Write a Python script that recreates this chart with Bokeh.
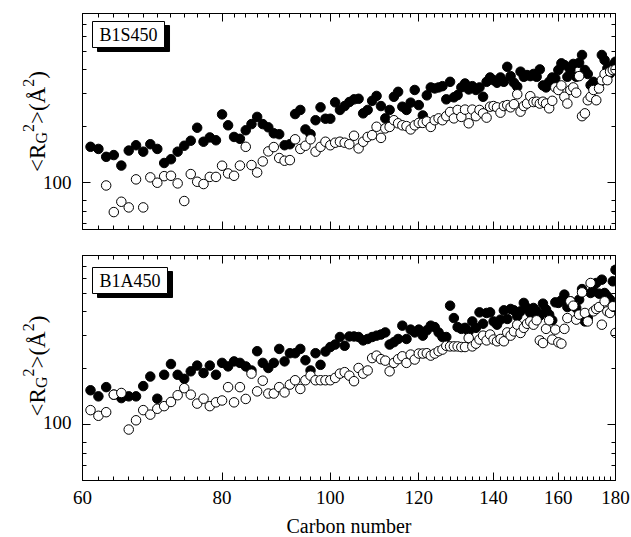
import numpy as np
from bokeh.plotting import figure
from bokeh.models import (ColumnDataSource, FixedTicker, LogAxis, Label,
                          PrintfTickFormatter, Range1d)
from bokeh.layouts import column, row
from bokeh.embed import file_html
from bokeh.resources import INLINE

FONT = "Liberation Serif"

# ---------------- data ----------------
carbon = list(range(61, 181))

s450_filled = [
    155, 151, 137, 140, 123, 148, 158, 146, 160, 151,
    127, 133, 146, 157, 167, 196, 165, 174, 168, 231,
    202, 175, 171, 190, 205, 224, 205, 197, 183, 181,
    158, 160, 232, 244, 192, 181, 215, 252, 219, 219,
    268, 244, 256, 269, 278, 280, 234, 244, 273, 290,
    256, 220, 244, 287, 305, 254, 244, 267, 312, 259,
    228, 292, 322, 318, 322, 327, 278, 345, 285, 293,
    322, 338, 314, 327, 312, 322, 287, 345, 364, 352,
    341, 364, 345, 415, 370, 341, 325, 391, 367, 375,
    370, 380, 367, 402, 330, 322, 345, 364, 360, 399,
    433, 424, 367, 399, 430, 367, 436, 480, 399, 380,
    331, 345, 318, 338, 480, 451, 407, 383, 424, 442,
]

carbon_s450_open = list(range(63, 181))
s450_open = [
    96.3, 69.4, 78.8, 73.5, 103.8, 73.5, 106.4, 99.6,
    108, 108.5, 98.8, 79.5, 110.8, 100.8, 98, 107, 107, 122.8,
    111.7, 108.5, 123, 155, 123.8, 113, 129.5, 146.5, 154.5, 135,
    130.6, 131.6, 170, 151, 157, 170, 146, 155, 165, 158,
    163, 165, 163, 160, 177.6, 152, 165, 175, 179, 198.4,
    173, 194.5, 198, 215, 207, 202, 200, 192, 202, 208,
    208, 212, 198, 215, 220, 215, 226, 238, 220, 244,
    224, 245, 207, 245, 226, 244, 234, 222, 254, 256,
    252, 236, 256, 259, 252, 262, 296, 239, 256, 264,
    289, 269, 270, 264, 270, 264, 249, 273, 322, 312,
    330, 287, 264, 312, 322, 302, 370, 226, 234, 275,
    287, 312, 275, 318, 352, 380, 352, 391, 399, 402,
]

a450_filled = [
    152, 141, 158, 144, 138, 141, 141, 160, 180, 137,
    184, 210, 184, 175, 192, 206, 188, 206, 184, 213,
    204, 217, 213, 204, 194, 246, 213, 200, 213, 253,
    217, 240, 240, 253, 220, 194, 240, 208, 245, 259,
    267, 293, 263, 295, 295, 293, 281, 286, 293, 298,
    302, 310, 267, 275, 286, 337, 286, 321, 310, 321,
    298, 318, 337, 331, 310, 293, 293, 431, 370, 331,
    324, 328, 314, 355, 328, 397, 345, 394, 397, 355,
    341, 363, 407, 366, 414, 407, 378, 402, 446, 419,
    394, 419, 402, 381, 442, 411, 386, 360, 449, 446,
    460, 494, 424, 455, 436, 419, 464, 529, 355, 370,
    504, 514, 570, 500, 594, 504, 484, 464, 582, 671,
]

a450_open = [
    119, 111, 116, 144, 147, 93.7, 105, 119, 112.6, 121,
    125, 131.6, 143, 156, 144, 129, 137, 125, 131, 134,
    158, 131, 158, 136.6, 186.6, 150, 171, 146, 146, 158,
    148, 163, 172, 154.5, 172, 182, 172, 172, 172, 172,
    177, 186.6, 190, 182, 170, 200, 186.6, 194, 226, 233,
    223, 219, 192, 213, 223, 231, 213, 236, 222, 239,
    239, 240, 233, 239, 246, 251, 263, 261, 261, 261,
    259, 259, 289.5, 261, 270, 284, 298, 281, 302, 284,
    278, 286, 278, 310, 298, 314, 341, 308, 328, 345,
    355, 341, 360, 281, 272, 324, 360, 284, 321, 274.5,
    270, 324, 370, 455, 431, 363, 386, 508, 394, 355,
    570, 402, 414, 424, 341, 455, 402, 394, 428, 308,
]

x_major = [60, 80, 100, 120, 140, 160, 180]
x_minor = [c for c in range(62, 180, 2) if c not in x_major]
y_major = [100]
y_minor = [60, 70, 80, 200, 300, 400, 500, 600, 700]
panel_names = ["B1S450", "B1A450"]

LEFT_W = 72        # width of the left strip holding the y title and tick label
PANEL_BORDER_L = 10


def style_axis(ax, show_labels, fs="19px"):
    ax.axis_line_color = "black"
    ax.major_tick_in = 8
    ax.major_tick_out = 0
    ax.minor_tick_in = 4
    ax.minor_tick_out = 0
    ax.major_tick_line_color = "black"
    ax.minor_tick_line_color = "black"
    ax.major_label_text_font = FONT
    if show_labels:
        ax.major_label_text_font_size = fs
        ax.major_label_text_color = "black"
        ax.major_label_standoff = 8
    else:
        ax.major_label_text_font_size = "1px"
        ax.major_label_text_color = None
        ax.major_label_standoff = 0
        ax.major_label_overrides = {t: "" for t in x_major + y_major}


def left_strip(ylo, frame_h, top, bottom):
    """Left strip: rotated <R_G^2>(Å^2) title plus the y tick label,
    sharing the panel's log y scale so the tick label sits at its value."""
    t = figure(width=LEFT_W, height=top + frame_h + bottom,
               x_range=Range1d(0, LEFT_W), y_range=Range1d(ylo, 800),
               y_axis_type="log", x_axis_location=None, y_axis_location=None,
               min_border_left=0, min_border_right=0,
               min_border_top=top, min_border_bottom=bottom,
               output_backend="svg", toolbar_location=None)
    t.xgrid.visible = False
    t.ygrid.visible = False
    t.outline_line_color = None
    t.background_fill_color = "white"
    t.border_fill_color = "white"
    for v in y_major:
        t.add_layout(Label(x=LEFT_W - 1, y=v, x_units="screen", y_units="data",
                           text=f"{v:d}", text_font=FONT, text_font_size="19px",
                           text_align="right", text_baseline="middle",
                           text_color="black"))
    pieces = [("<R", 23, 0, 1.231), ("G", 16, 4, 0.722), ("2", 16, -9, 0.5),
              (">(Å", 23, 0, 1.619), ("2", 16, -9, 0.5), (")", 23, 0, 0.333)]
    total = sum(fs * w for _, fs, _, w in pieces)
    pos = frame_h / 2 - total / 2
    base_x = 37
    for txt, fs, shift, w in pieces:
        t.add_layout(Label(x=base_x + shift, y=pos, x_units="screen", y_units="screen",
                           text=txt, text_font=FONT, text_font_size=f"{fs}px",
                           angle=np.pi / 2, text_align="left",
                           text_baseline="alphabetic", text_color="black"))
        pos += fs * w
    return t


def make_panel(name, xs_f, ys_f, xs_o, ys_o, ylo, frame_h, top, bottom, show_x, box_top):
    p = figure(frame_width=533, frame_height=frame_h,
               x_axis_type="log", y_axis_type="log",
               x_range=Range1d(60, 180), y_range=Range1d(ylo, 800),
               x_axis_location=None, y_axis_location=None,
               min_border_left=PANEL_BORDER_L, min_border_right=16,
               min_border_top=top, min_border_bottom=bottom,
               output_backend="svg", toolbar_location=None)
    p.xgrid.visible = False
    p.ygrid.visible = False
    p.outline_line_color = "black"
    p.background_fill_color = "white"
    p.border_fill_color = "white"

    xt = FixedTicker(ticks=x_major, minor_ticks=x_minor)
    yt = FixedTicker(ticks=y_major, minor_ticks=y_minor)

    bx = LogAxis(ticker=xt)
    style_axis(bx, show_x)
    if show_x:
        bx.formatter = PrintfTickFormatter(format="%d")
        bx.major_label_standoff = 10
        bx.axis_label = "Carbon number"
        bx.axis_label_text_font = FONT
        bx.axis_label_text_font_size = "20px"
        bx.axis_label_text_font_style = "normal"
        bx.axis_label_text_color = "black"
        bx.axis_label_standoff = 8
    p.add_layout(bx, "below")
    tx = LogAxis(ticker=xt)
    style_axis(tx, False)
    p.add_layout(tx, "above")

    ly = LogAxis(ticker=yt)
    style_axis(ly, False)
    p.add_layout(ly, "left")
    ry = LogAxis(ticker=yt)
    style_axis(ry, False)
    p.add_layout(ry, "right")

    src_f = ColumnDataSource(dict(x=xs_f, y=ys_f))
    src_o = ColumnDataSource(dict(x=xs_o, y=ys_o))
    p.scatter("x", "y", source=src_f, size=9.5, fill_color="black",
              line_color="black", line_width=1)
    p.scatter("x", "y", source=src_o, size=9.5, fill_color="white",
              line_color="black", line_width=1)

    # boxed name with drop shadow
    common = dict(x=10, y=frame_h - box_top + 4, x_units="screen", y_units="screen",
                  text=name, text_font=FONT, text_font_size="18px",
                  text_align="left", text_baseline="top",
                  padding=dict(left=7, right=7, top=3, bottom=3))
    shadow = Label(**{**common, "x": common["x"] + 5, "y": common["y"] - 4},
                   text_color="black", background_fill_color="black",
                   border_line_color="black")
    front = Label(**common, text_color="black", background_fill_color="white",
                  border_line_color="black", border_line_width=1)
    p.add_layout(shadow)
    p.add_layout(front)
    return p


p1 = make_panel("B1S450", carbon, s450_filled, carbon_s450_open, s450_open,
                56, 216, 13, 13, False, 12)
p2 = make_panel("B1A450", carbon, a450_filled, carbon, a450_open,
                50, 225, 13, 57, True, 16)
t1 = left_strip(56, 216, 13, 13)
t2 = left_strip(50, 225, 13, 57)

layout = column(row(t1, p1, spacing=0), row(t2, p2, spacing=0), spacing=0)
open("out.html", "w").write(file_html(layout, INLINE))
